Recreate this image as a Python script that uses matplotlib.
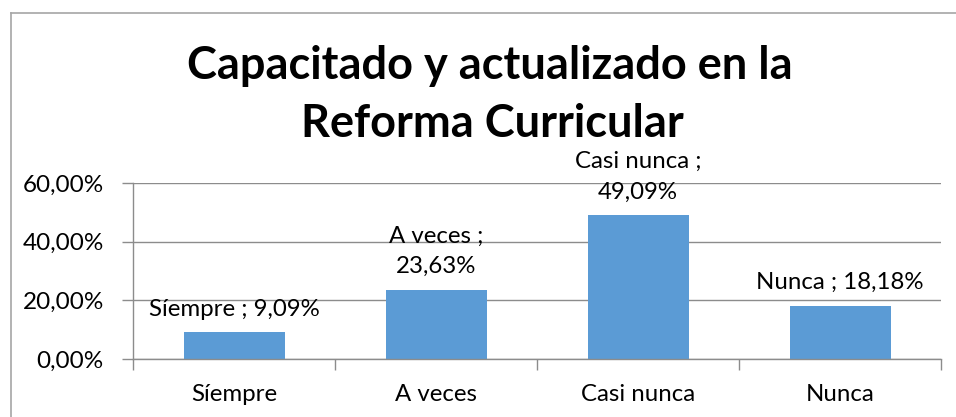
import matplotlib
matplotlib.use("Agg")
import matplotlib.pyplot as plt
from matplotlib.lines import Line2D
from matplotlib.ticker import FuncFormatter

categories = ["Síempre", "A veces", "Casi nunca", "Nunca"]
values = [0.0909, 0.2363, 0.4909, 0.1818]
data_labels = ["Síempre ; 9,09%", "A veces ;\n23,63%", "Casi nunca ;\n49,09%", "Nunca ; 18,18%"]
title_lines = ["Capacitado y actualizado en la", "Reforma Curricular"]
yticks = [0.0, 0.2, 0.4, 0.6]

FONT = ["Lato", "DejaVu Sans"]
plt.rcParams["font.family"] = FONT

W, H = 956, 417
fig = plt.figure(figsize=(W / 100, H / 100), dpi=100)
fig.patch.set_facecolor("white")

ax = fig.add_axes([133 / W, 1 - 359 / H, (941 - 133) / W, (359 - 183) / H])
x = list(range(len(categories)))
ax.bar(x, values, width=0.5, color="#5B9BD5", zorder=3)

ax.set_xlim(-0.5, len(categories) - 0.5)
ax.set_ylim(0, 0.6)
ax.set_yticks(yticks)
ax.yaxis.set_major_formatter(FuncFormatter(lambda v, p: f"{v*100:.2f}%".replace(".", ",")))
ax.grid(axis="y", color="#8c8c8c", linewidth=1.0, zorder=0)

ax.set_xticks([i - 0.5 for i in range(len(categories) + 1)])
ax.set_xticklabels([])
ax.set_xticks(x, minor=True)
ax.set_xticklabels(categories, minor=True)
ax.tick_params(axis="x", which="minor", length=0, pad=18, labelsize=17.3, colors="black")
ax.tick_params(axis="x", which="major", length=8, width=1, color="#8c8c8c", direction="out")
ax.tick_params(axis="y", length=8, width=1, color="#8c8c8c", pad=13, labelsize=17.5)

for s in ["top", "right"]:
    ax.spines[s].set_visible(False)
for s in ["left", "bottom"]:
    ax.spines[s].set_color("#8c8c8c")
    ax.spines[s].set_linewidth(1.0)
    ax.spines[s].set_zorder(4)

for xi, v, lab in zip(x, values, data_labels):
    ax.annotate(lab, (xi, v), xytext=(0, 9), textcoords="offset points",
                ha="center", va="bottom", fontsize=17.3, linespacing=1.55, zorder=5)

fig.text(490 / W, 1 - 79 / H, title_lines[0], ha="center", va="baseline",
         fontsize=32.5, fontweight="bold")
fig.text(492 / W, 1 - 137 / H, title_lines[1], ha="center", va="baseline",
         fontsize=32.5, fontweight="bold")

border = "#a6a6a6"
fig.add_artist(Line2D([11 / W, 11 / W], [0, 1 - 13 / H], transform=fig.transFigure, color=border, linewidth=1.2))
fig.add_artist(Line2D([11 / W, 1], [1 - 13 / H, 1 - 13 / H], transform=fig.transFigure, color=border, linewidth=1.2))

fig.savefig("out.png", dpi=100)
